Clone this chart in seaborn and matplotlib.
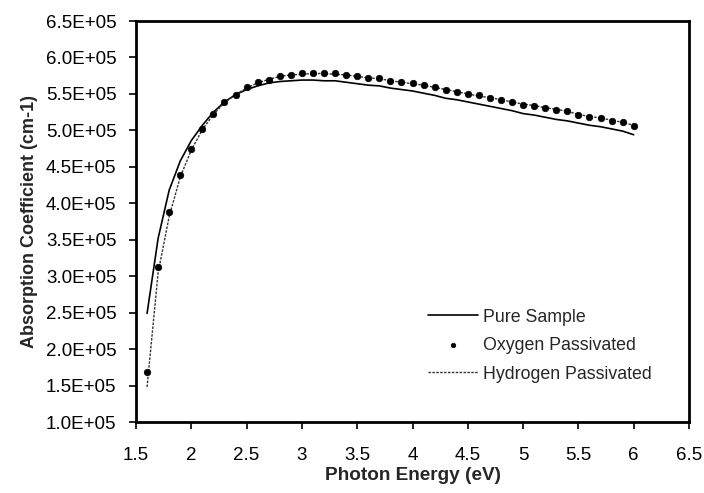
import numpy as np
import pandas as pd
import matplotlib
matplotlib.use("Agg")
import matplotlib.pyplot as plt
import seaborn as sns
from matplotlib.ticker import FuncFormatter, MultipleLocator

energy = [1.6, 1.7, 1.8, 1.9, 2.0, 2.1, 2.2, 2.3, 2.4, 2.5, 2.6, 2.7, 2.8, 2.9, 3.0,
          3.1, 3.2, 3.3, 3.4, 3.5, 3.6, 3.7, 3.8, 3.9, 4.0, 4.1, 4.2, 4.3, 4.4, 4.5,
          4.6, 4.7, 4.8, 4.9, 5.0, 5.1, 5.2, 5.3, 5.4, 5.5, 5.6, 5.7, 5.8, 5.9, 6.0]

pure = [2.49, 3.52, 4.18, 4.58, 4.86, 5.07, 5.25, 5.39, 5.49, 5.56, 5.61, 5.65, 5.67, 5.68, 5.69,
        5.69, 5.68, 5.68, 5.66, 5.64, 5.62, 5.61, 5.58, 5.56, 5.54, 5.51, 5.48, 5.44, 5.42, 5.39,
        5.36, 5.33, 5.30, 5.27, 5.23, 5.21, 5.18, 5.15, 5.13, 5.10, 5.07, 5.05, 5.02, 4.99, 4.94]

oxygen = [1.68, 3.13, 3.88, 4.39, 4.75, 5.02, 5.23, 5.39, 5.49, 5.59, 5.66, 5.69, 5.75, 5.76, 5.78,
          5.78, 5.78, 5.78, 5.76, 5.74, 5.72, 5.72, 5.68, 5.66, 5.65, 5.62, 5.60, 5.55, 5.53, 5.50,
          5.48, 5.45, 5.41, 5.39, 5.35, 5.34, 5.31, 5.28, 5.26, 5.21, 5.19, 5.17, 5.13, 5.11, 5.06]

hydrogen = [1.48, 3.05, 3.82, 4.36, 4.73, 5.01, 5.22, 5.38, 5.49, 5.58, 5.65, 5.70, 5.74, 5.76, 5.77,
            5.78, 5.78, 5.77, 5.76, 5.74, 5.72, 5.71, 5.68, 5.66, 5.64, 5.62, 5.59, 5.56, 5.53, 5.50,
            5.47, 5.45, 5.42, 5.39, 5.36, 5.34, 5.31, 5.29, 5.26, 5.22, 5.19, 5.17, 5.14, 5.11, 5.07]

series_names = ["Pure Sample", "Oxygen Passivated", "Hydrogen Passivated"]

sns.set_style("ticks")
plt.rcParams['font.family'] = ['Liberation Sans', 'DejaVu Sans']

df = pd.DataFrame({
    "E": energy * 3,
    "A": [v * 1e5 for v in pure + oxygen + hydrogen],
    "series": [series_names[0]] * len(energy) + [series_names[1]] * len(energy) + [series_names[2]] * len(energy),
})

fig = plt.figure(figsize=(7.04, 4.93), dpi=100)
ax = fig.add_axes([0.1932, 0.144, 0.7855, 0.8134])

sns.lineplot(data=df[df.series == series_names[0]], x="E", y="A", ax=ax,
             color="black", linewidth=1.2, label=series_names[0])
sns.scatterplot(data=df[df.series == series_names[1]], x="E", y="A", ax=ax,
                color="black", s=22, marker="o", edgecolor="black", linewidth=0.5,
                label=series_names[1], zorder=3)
sns.lineplot(data=df[df.series == series_names[2]], x="E", y="A", ax=ax,
             color="#333333", linewidth=1.0, linestyle=(0, (1.8, 1.0)), label=series_names[2])

ax.set_xlim(1.5, 6.5)
ax.set_ylim(1.0e5, 6.5e5)
ax.xaxis.set_major_locator(MultipleLocator(0.5))
ax.yaxis.set_major_locator(MultipleLocator(0.5e5))
ax.xaxis.set_major_formatter(FuncFormatter(lambda v, p: f"{v:g}"))
ax.yaxis.set_major_formatter(FuncFormatter(lambda v, p: f"{v:.1E}"))

ax.tick_params(axis="both", direction="out", length=5, width=1.2, labelsize=13.5, colors="black")
ax.tick_params(axis="y", pad=9)
ax.tick_params(axis="x", pad=13)
for s in ax.spines.values():
    s.set_linewidth(2)
    s.set_color("black")

ax.set_xlabel("Photon Energy (eV)", fontsize=13.7, fontweight="bold", labelpad=2)
ax.set_ylabel("Absorption Coefficient (cm-1)", fontsize=13, fontweight="bold", labelpad=6)

leg = ax.legend(loc="upper left", bbox_to_anchor=(0.528, 0.283), frameon=False, fontsize=12.8,
                handlelength=2.8, handletextpad=0.3, labelspacing=0.65, borderpad=0,
                borderaxespad=0, markerscale=0.7)

fig.savefig("out.png", dpi=100)
